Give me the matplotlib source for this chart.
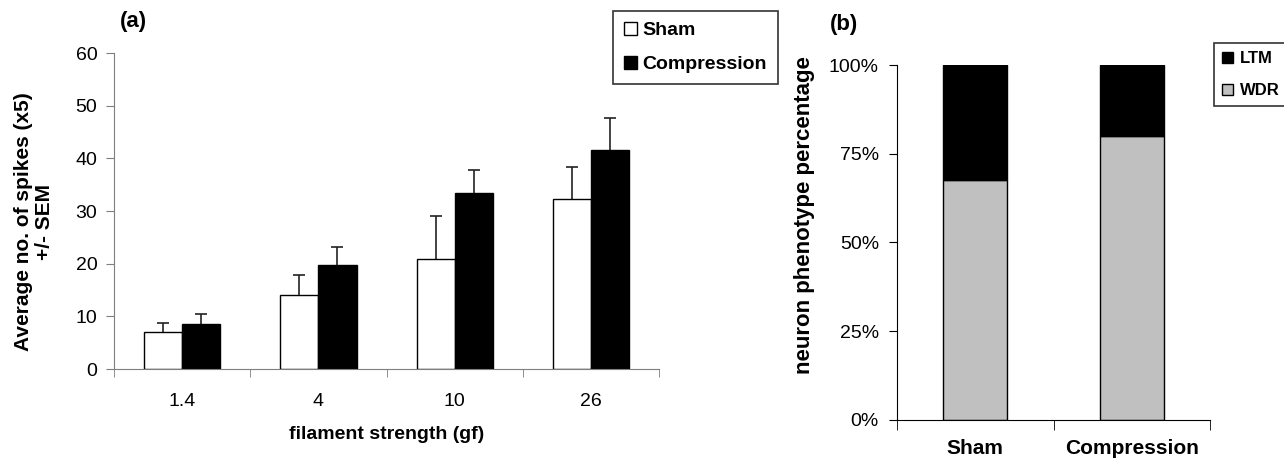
import numpy as np
import matplotlib.pyplot as plt

plt.rcParams['font.family'] = ['Liberation Sans', 'DejaVu Sans']

# panel (a) data
filaments = ['1.4', '4', '10', '26']
sham = [7.0, 14.1, 20.9, 32.3]
sham_err = [1.7, 3.8, 8.1, 6.1]
comp = [8.5, 19.7, 33.5, 41.5]
comp_err = [1.9, 3.4, 4.3, 6.1]

# panel (b) data
groups = ['Sham', 'Compression']
wdr = [67.5, 80.0]
ltm = [32.5, 20.0]

grey_ax = '#7f7f7f'

fig = plt.figure(figsize=(12.84, 4.63), dpi=100)

# (a)
ax = fig.add_axes([0.0888, 0.2030, 0.4245, 0.6825])
x = np.arange(len(filaments))
w = 0.28
ax.bar(x - w / 2, sham, w, color='white', edgecolor='black', linewidth=1, label='Sham')
ax.bar(x + w / 2, comp, w, color='black', edgecolor='black', linewidth=1, label='Compression')
for xs, ys, es in [(x - w / 2, sham, sham_err), (x + w / 2, comp, comp_err)]:
    eb = ax.errorbar(xs, ys, yerr=[np.zeros(len(es)), es], fmt='none', ecolor='#222222',
                     elinewidth=1.2, capsize=4, capthick=1.2)
    eb[1][0].set_visible(False)
ax.set_xlim(-0.5, 3.5)
ax.set_ylim(0, 60)
ax.set_yticks(np.arange(0, 61, 10))
ax.set_xticks(x)
ax.set_xticklabels(filaments)
ax.set_xticks(np.arange(-0.5, 4, 1), minor=True)
ax.tick_params(axis='x', which='major', length=0, pad=17, labelsize=14)
ax.tick_params(axis='x', which='minor', length=6, direction='out', color=grey_ax)
ax.tick_params(axis='y', length=6, direction='out', labelsize=14, color=grey_ax, pad=6)
ax.spines[['right', 'top']].set_visible(False)
ax.spines[['left', 'bottom']].set_color(grey_ax)
ax.set_xlabel('filament strength (gf)', fontweight='bold', fontsize=14, labelpad=12)
ax.set_ylabel('Average no. of spikes (x5)\n+/- SEM', fontweight='bold', fontsize=15,
              linespacing=1.15)
ax.yaxis.set_label_coords(-0.147, 0.465)
ax.yaxis.label.set_verticalalignment('center')
leg = fig.legend(*ax.get_legend_handles_labels(), loc='upper left',
                 bbox_to_anchor=(613 / 1284, 1 - 11 / 463), borderaxespad=0,
                 prop={'weight': 'bold', 'size': 14}, frameon=True, fancybox=False,
                 edgecolor='black', handlelength=0.67, handleheight=0.67, handletextpad=0.3,
                 borderpad=0.55, labelspacing=0.85)
leg.get_frame().set_linewidth(1.2)
fig.text(120 / 1284, 1 - 11 / 463, '(a)', fontsize=16, fontweight='bold', va='top')

# (b)
ax2 = fig.add_axes([0.6986, 0.0929, 0.2438, 0.7667])
xb = np.arange(len(groups))
ax2.bar(xb, wdr, 0.41, color='#c0c0c0', edgecolor='black', linewidth=1, label='WDR')
ax2.bar(xb, ltm, 0.41, bottom=wdr, color='black', edgecolor='black', linewidth=1, label='LTM')
ax2.set_xlim(-0.5, 1.5)
ax2.set_ylim(0, 100)
ax2.set_yticks([0, 25, 50, 75, 100])
ax2.set_yticklabels(['0%', '25%', '50%', '75%', '100%'])
ax2.set_xticks(xb)
ax2.set_xticklabels(groups, fontweight='bold')
ax2.set_xticks(np.arange(-0.5, 2, 1), minor=True)
ax2.tick_params(axis='x', which='major', length=0, pad=14, labelsize=15)
ax2.tick_params(axis='x', which='minor', length=7, direction='out')
ax2.tick_params(axis='y', length=6, direction='out', labelsize=14, pad=7)
ax2.spines[['right', 'top']].set_visible(False)
ax2.set_ylabel('neuron phenotype percentage', fontweight='bold', fontsize=16)
ax2.yaxis.set_label_coords(-0.297, 0.576)
ax2.yaxis.label.set_verticalalignment('center')
h, l = ax2.get_legend_handles_labels()
leg2 = fig.legend(h[::-1], l[::-1], loc='upper left',
                  bbox_to_anchor=(1214 / 1284, 1 - 43 / 463), borderaxespad=0,
                  prop={'weight': 'bold', 'size': 12}, frameon=True, fancybox=False,
                  edgecolor='black', handlelength=0.63, handleheight=0.63, handletextpad=0.4,
                  borderpad=0.5, labelspacing=1.0)
leg2.get_frame().set_linewidth(1.2)
fig.text(830 / 1284, 1 - 14 / 463, '(b)', fontsize=16, fontweight='bold', va='top')

fig.savefig('out.png', dpi=100)
